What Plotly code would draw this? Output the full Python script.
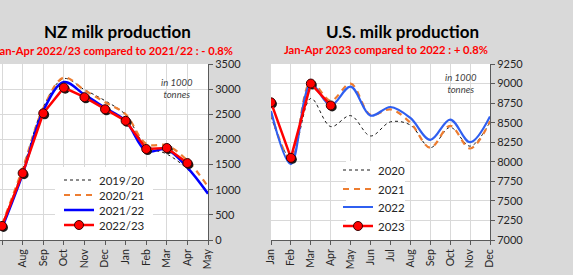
import plotly.graph_objects as go

# ---------------- data ----------------
months_nz = ['Jul', 'Aug', 'Sep', 'Oct', 'Nov', 'Dec', 'Jan', 'Feb', 'Mar', 'Apr', 'May']
nz_1920 = [300, 1400, 2640, 3210, 2990, 2770, 2490, 1860, 1710, 1410, 950]
nz_2021 = [310, 1420, 2620, 3230, 2980, 2740, 2500, 1910, 1880, 1580, 1060]
nz_2122 = [240, 1310, 2570, 3140, 2890, 2630, 2370, 1770, 1800, 1440, 920]
nz_2223 = [280, 1330, 2520, 3030, 2840, 2600, 2370, 1810, 1830, 1530, None]

months_us = ['Jan', 'Feb', 'Mar', 'Apr', 'May', 'Jun', 'Jul', 'Aug', 'Sep', 'Oct', 'Nov', 'Dec']
us_2020 = [8580, 8050, 8810, 8450, 8590, 8330, 8510, 8470, 8180, 8440, 8200, 8510]
us_2021 = [8620, 8030, 9020, 8780, 9000, 8600, 8670, 8500, 8180, 8460, 8170, 8520]
us_2022 = [8650, 7970, 8990, 8720, 8960, 8590, 8700, 8560, 8280, 8540, 8250, 8580]
us_2023 = [8760, 8050, 9000, 8720, None, None, None, None, None, None, None, None]

nz_names = ['2019/20', '2020/21', '2021/22', '2022/23']
us_names = ['2020', '2021', '2022', '2023']
nz_ticks = [0, 500, 1000, 1500, 2000, 2500, 3000, 3500]
us_ticks = [7000, 7250, 7500, 7750, 8000, 8250, 8500, 8750, 9000, 9250]

FONT = 'Lato'
W, H = 573, 275
ML, MR, MT, MB = 0, 0, 64, 35
PH = H - MT - MB


def px_x(px):
    return (px - ML) / (W - ML - MR)


def px_y(py):
    return (H - MB - py) / PH


fig = go.Figure()

BLACK_LINE = dict(color='#1a1a1a', width=1, dash='dot', shape='spline', smoothing=1)
ORANGE_LINE = dict(color='#ED7D31', width=2.2, dash='6px,5px', shape='spline', smoothing=1)
BLUE_LINE = dict(color='#0000FF', width=2.5, shape='spline', smoothing=1)
BLUE2_LINE = dict(color='#2F5FF0', width=2.2, shape='spline', smoothing=1)
RED_LINE = dict(color='#FF0000', width=2.5)
RED_MARKER = dict(size=9, color='#FF0000', line=dict(color='#3a0000', width=1))
SHADOW_MARKER = dict(size=9, color='#1a1a1a', line=dict(width=0))


def add_set(cats, series, names, xa, ya, legends, blue_line, dx, dy):
    idx = list(range(len(cats)))
    s1, s2, s3, s4 = series
    fig.add_trace(go.Scatter(x=idx, y=s1, name=names[0], mode='lines', line=BLACK_LINE,
                             xaxis=xa, yaxis=ya, legend=legends[0]))
    fig.add_trace(go.Scatter(x=idx, y=s2, name=names[1], mode='lines', line=ORANGE_LINE,
                             xaxis=xa, yaxis=ya, legend=legends[1]))
    fig.add_trace(go.Scatter(x=idx, y=s3, name=names[2], mode='lines', line=blue_line,
                             xaxis=xa, yaxis=ya, legend=legends[2]))
    # soft drop shadow of the markers (same data, nudged by ~1.5 px)
    fig.add_trace(go.Scatter(x=[i + dx for i in idx],
                             y=[None if v is None else v - dy for v in s4],
                             mode='markers', marker=SHADOW_MARKER, showlegend=False,
                             hoverinfo='skip', xaxis=xa, yaxis=ya))
    fig.add_trace(go.Scatter(x=idx, y=s4, name=names[3], mode='lines+markers', line=RED_LINE,
                             marker=RED_MARKER, xaxis=xa, yaxis=ya, legend=legends[3]))


add_set(months_nz, [nz_1920, nz_2021, nz_2122, nz_2223], nz_names, 'x', 'y',
        ['legend', 'legend3', 'legend4', 'legend5'], BLUE_LINE, 0.07, 30)
add_set(months_us, [us_2020, us_2021, us_2022, us_2023], us_names, 'x2', 'y2',
        ['legend2', 'legend6', 'legend7', 'legend8'], BLUE2_LINE, 0.075, 19)

AX_COL = '#595959'
GRID = '#d9d9d9'
TICKFONT = dict(family=FONT, size=11, color='#262626')

common_x = dict(showgrid=True, gridcolor=GRID, gridwidth=1,
                showline=True, linecolor=AX_COL, linewidth=1, ticks='outside',
                ticklen=4, tickcolor=AX_COL, tickangle=-90,
                tickfont=dict(family=FONT, size=10.5, color='#262626'),
                automargin=False, zeroline=False, fixedrange=True)
common_y = dict(side='right', showgrid=True, gridcolor=GRID, gridwidth=1,
                showline=True, linecolor=AX_COL, linewidth=1, ticks='outside',
                ticklen=4, tickcolor=AX_COL, tickfont=TICKFONT,
                automargin=False, zeroline=False, fixedrange=True)

LEG_FONT = dict(family=FONT, size=11.5, color='#262626')


def leg(xpx, center_px):
    return dict(x=px_x(xpx), y=px_y(center_px - 14.5), xanchor='left', yanchor='top',
                bgcolor='rgba(0,0,0,0)', borderwidth=0, itemwidth=30, font=LEG_FONT)


nz_leg_y = [180, 195, 210, 225]
us_leg_y = [170, 189, 207, 226]

fig.update_layout(
    width=W, height=H,
    margin=dict(l=ML, r=MR, t=MT, b=MB, pad=0),
    paper_bgcolor='#d9d9d9', plot_bgcolor='#ffffff',
    template='none',
    font=dict(family=FONT, color='#262626'),
    xaxis=dict(common_x, domain=[px_x(0), px_x(208)], range=[-0.1, 10],
               tickvals=list(range(len(months_nz))), ticktext=months_nz, anchor='y'),
    yaxis=dict(common_y, range=[0, 3500], tickvals=nz_ticks, anchor='x'),
    xaxis2=dict(common_x, domain=[px_x(271), px_x(490)], range=[0, 11],
                tickvals=list(range(len(months_us))), ticktext=months_us, anchor='y2'),
    yaxis2=dict(common_y, range=[7000, 9250], tickvals=us_ticks, anchor='x2'),
    legend=leg(59, nz_leg_y[0]),
    legend3=leg(59, nz_leg_y[1]),
    legend4=leg(59, nz_leg_y[2]),
    legend5=leg(59, nz_leg_y[3]),
    legend2=leg(338, us_leg_y[0]),
    legend6=leg(338, us_leg_y[1]),
    legend7=leg(338, us_leg_y[2]),
    legend8=leg(338, us_leg_y[3]),
    showlegend=True,
)

# white legend panels (cover the grid behind the legends)
fig.add_shape(type='rect', xref='paper', yref='paper', layer='above',
              x0=px_x(55), x1=px_x(153), y0=px_y(240), y1=px_y(167),
              fillcolor='#ffffff', line=dict(width=0))
fig.add_shape(type='rect', xref='paper', yref='paper', layer='above',
              x0=px_x(346), x1=px_x(405), y0=px_y(240), y1=px_y(161),
              fillcolor='#ffffff', line=dict(width=0))

ann = [
    dict(text='<b>NZ milk production</b>', x=px_x(117), y=px_y(31),
         font=dict(family=FONT, size=17, color='#000000')),
    dict(text='<b>Jan-Apr 2022/23 compared to 2021/22 : - 0.8%</b>', x=px_x(114), y=px_y(51),
         font=dict(family=FONT, size=11.2, color='#FF0000')),
    dict(text='<b>U.S. milk production</b>', x=px_x(402), y=px_y(31),
         font=dict(family=FONT, size=17, color='#000000')),
    dict(text='<b>Jan-Apr 2023 compared to 2022 : + 0.8%</b>', x=px_x(386), y=px_y(50),
         font=dict(family=FONT, size=11.2, color='#FF0000')),
    dict(text='<i>in 1000<br>tonnes</i>', x=px_x(177), y=px_y(88),
         font=dict(family=FONT, size=9.5, color='#404040')),
    dict(text='<i>in 1000<br>tonnes</i>', x=px_x(461), y=px_y(83),
         font=dict(family=FONT, size=9.5, color='#404040')),
]
for a in ann:
    a.update(xref='paper', yref='paper', showarrow=False, xanchor='center', yanchor='middle')
fig.update_layout(annotations=ann)

fig.write_html('out.html', config={'displayModeBar': False, 'staticPlot': True},
               post_script="document.body.style.margin='0';document.body.style.overflow='hidden';")
